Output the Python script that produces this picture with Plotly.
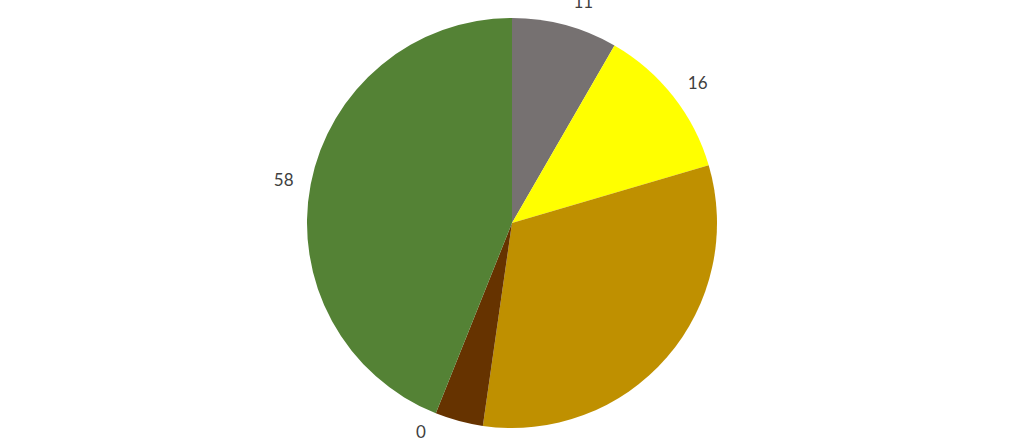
import plotly.graph_objects as go

categories = ["Grey", "Yellow", "Gold", "Brown", "Other", "Green"]
values = [11, 16, 42, 5, 0, 58]
labels_text = ["11", "16", "", "", "0", "58"]
colors = ["#767171", "#FFFF00", "#BF9000", "#663300", "#404040", "#548235"]

W, H = 1024, 438
cy_px = 223
r_main = 205
r_lab = 219

def dom_y(r):
    c = (H - cy_px) / H
    return [max(0, c - r / H), min(1, c + r / H)]

def dom_x(r):
    return [0.5 - r / W, 0.5 + r / W]

fig = go.Figure()
fig.add_trace(go.Pie(
    labels=categories, values=values, sort=False, direction="clockwise", rotation=0,
    marker=dict(colors=colors, line=dict(width=0)),
    textinfo="none", showlegend=False, hoverinfo="label+value", automargin=False,
    domain=dict(x=dom_x(r_main), y=dom_y(r_main)),
))
fig.add_trace(go.Pie(
    labels=categories, values=values, sort=False, direction="clockwise", rotation=0,
    marker=dict(colors=["rgba(0,0,0,0)"] * len(values), line=dict(width=0)),
    text=labels_text, textinfo="text", textposition="outside", automargin=False,
    outsidetextfont=dict(family="Lato, Open Sans, sans-serif", size=17, color="#404040"),
    showlegend=False, hoverinfo="skip",
    domain=dict(x=dom_x(r_lab), y=dom_y(r_lab)),
))
fig.update_layout(
    width=W, height=H, margin=dict(l=0, r=0, t=0, b=0, autoexpand=False),
    paper_bgcolor="white", plot_bgcolor="white", showlegend=False,
)
fig.write_html("out.html", config={"displayModeBar": False},
               post_script="document.body.style.margin='0';")
